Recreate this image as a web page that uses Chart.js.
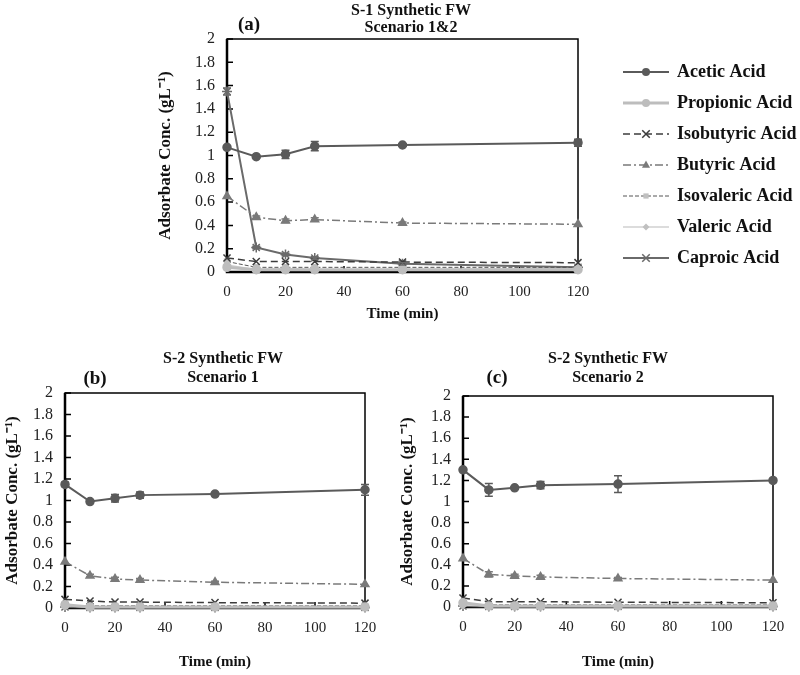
<!DOCTYPE html>
<html>
<head>
<meta charset="utf-8">
<script src="https://cdn.jsdelivr.net/npm/chart.js@4.4.1/dist/chart.umd.min.js"></script>
<style>
  body { margin: 0; background: #fff; }
  #wrap { position: relative; width: 800px; height: 675px; font-family: 'Liberation Serif', 'Times New Roman', serif; font-weight: bold; color: #111; }
  canvas { position: absolute; }
  .letter { position: absolute; font-size: 19px; transform: translate(-50%, -50%); white-space: nowrap; }
  .ttl { position: absolute; text-align: center; font-size: 16px; transform: translateX(-50%); white-space: nowrap; }
</style>
</head>
<body>
<div id="wrap">
  <canvas id="chartA" width="800" height="330" style="left:0;top:0;width:800px;height:330px"></canvas>
  <canvas id="chartB" width="400" height="345" style="left:0;top:330px;width:400px;height:345px"></canvas>
  <canvas id="chartC" width="410" height="345" style="left:390px;top:330px;width:410px;height:345px"></canvas>

  <div class="ttl" style="left:411px;top:1px;line-height:17px">S-1 Synthetic FW<br>Scenario 1&amp;2</div>
  <div class="ttl" style="left:223px;top:348px;line-height:19px">S-2 Synthetic FW<br>Scenario 1</div>
  <div class="ttl" style="left:608px;top:348px;line-height:19px">S-2 Synthetic FW<br>Scenario 2</div>
  <div class="letter" style="left:249px;top:24px">(a)</div>
  <div class="letter" style="left:95px;top:378px">(b)</div>
  <div class="letter" style="left:497px;top:377px">(c)</div>
</div>
<script>
// sampling times (min)
const times = [0, 10, 20, 30, 60, 120];
const acids = ['Acetic Acid', 'Propionic Acid', 'Isobutyric Acid', 'Butyric Acid', 'Isovaleric Acid', 'Valeric Acid', 'Caproic Acid'];
const xTicks = [0, 20, 40, 60, 80, 100, 120];
const yTicks = [0, 0.2, 0.4, 0.6, 0.8, 1, 1.2, 1.4, 1.6, 1.8, 2];
const yTickLabels = ['0', '0.2', '0.4', '0.6', '0.8', '1', '1.2', '1.4', '1.6', '1.8', '2'];

// (a) S-1 synthetic FW, scenario 1&2
const aAcetic     = [1.07, 0.99, 1.01, 1.08, 1.09, 1.11];
const aPropionic  = [0.04, 0.02, 0.02, 0.02, 0.02, 0.02];
const aIsobutyric = [0.12, 0.09, 0.09, 0.09, 0.085, 0.08];
const aButyric    = [0.65, 0.47, 0.44, 0.45, 0.42, 0.41];
const aIsovaleric = [0.09, 0.04, 0.04, 0.04, 0.04, 0.04];
const aValeric    = [0.06, 0.02, 0.03, 0.02, 0.02, 0.03];
const aCaproic    = [1.55, 0.21, 0.15, 0.12, 0.07, 0.04];
const aAceticErr  = [0.01, 0.01, 0.035, 0.04, 0.01, 0.03];
const aButyricErr = [0, 0.01, 0.015, 0.015, 0.01, 0];
const aCaproicErr = [0.03, 0.01, 0.01, 0.01, 0.01, 0];

// (b) S-2 synthetic FW, scenario 1
const bAcetic     = [1.15, 0.99, 1.02, 1.05, 1.06, 1.10];
const bPropionic  = [0.03, 0.01, 0.01, 0.01, 0.01, 0.01];
const bIsobutyric = [0.08, 0.065, 0.055, 0.055, 0.05, 0.045];
const bButyric    = [0.43, 0.30, 0.27, 0.26, 0.24, 0.22];
const bIsovaleric = [0.02, 0.02, 0.02, 0.02, 0.02, 0.02];
const bValeric    = [0.02, 0.01, 0.01, 0.01, 0.01, 0.01];
const bCaproic    = [0.01, 0.005, 0.005, 0.005, 0.005, 0.005];
const bAceticErr  = [0.02, 0.01, 0.035, 0.03, 0.01, 0.05];
const bButyricErr = [0, 0.015, 0.015, 0.015, 0.01, 0];

// (c) S-2 synthetic FW, scenario 2
const cAcetic     = [1.30, 1.11, 1.13, 1.155, 1.165, 1.20];
const cPropionic  = [0.04, 0.01, 0.01, 0.01, 0.01, 0.01];
const cIsobutyric = [0.085, 0.05, 0.05, 0.05, 0.045, 0.04];
const cButyric    = [0.46, 0.31, 0.295, 0.285, 0.27, 0.255];
const cIsovaleric = [0.03, 0.02, 0.02, 0.02, 0.02, 0.02];
const cValeric    = [0.02, 0.01, 0.01, 0.01, 0.01, 0.01];
const cCaproic    = [0.01, 0.005, 0.005, 0.005, 0.005, 0.005];
const cAceticErr  = [0.01, 0.06, 0.01, 0.035, 0.08, 0.01];
const cButyricErr = [0, 0.025, 0.015, 0.015, 0.01, 0];

const styles = [
  { color: '#5a5a5a', width: 2,   dash: [],           point: 'circle',   radius: 4,   fill: '#5a5a5a' },
  { color: '#bdbdbd', width: 3,   dash: [],           point: 'circle',   radius: 4,   fill: '#bdbdbd' },
  { color: '#3c3c3c', width: 1.5, dash: [7, 4],       point: 'crossRot', radius: 5,   fill: '#3c3c3c' },
  { color: '#7a7a7a', width: 1.5, dash: [8, 3, 2, 3], point: 'triangle', radius: 4.5, fill: '#7a7a7a' },
  { color: '#555555', width: 1,   dash: [4, 2],       point: 'rect',     radius: 3.5, fill: '#c0c0c0' },
  { color: '#d0d0d0', width: 1.5, dash: [],           point: 'rectRot',  radius: 3.5, fill: '#c0c0c0' },
  { color: '#6a6a6a', width: 2,   dash: [],           point: 'star',     radius: 5,   fill: '#6a6a6a' }
];

const serif = 'Liberation Serif';

function drawMarker(g, s, x, y) {
  const r = s.radius;
  g.fillStyle = s.fill;
  g.strokeStyle = s.color;
  g.lineWidth = 1.5;
  g.setLineDash([]);
  g.beginPath();
  if (s.point === 'circle') { g.arc(x, y, r, 0, Math.PI * 2); g.fill(); }
  else if (s.point === 'triangle') { g.moveTo(x, y - r); g.lineTo(x + r * 0.9, y + r * 0.6); g.lineTo(x - r * 0.9, y + r * 0.6); g.closePath(); g.fill(); }
  else if (s.point === 'rect') { g.rect(x - r * 0.75, y - r * 0.75, r * 1.5, r * 1.5); g.fill(); }
  else if (s.point === 'rectRot') { g.moveTo(x, y - r); g.lineTo(x + r, y); g.lineTo(x, y + r); g.lineTo(x - r, y); g.closePath(); g.fill(); }
  else if (s.point === 'crossRot') { const d = r * 0.75; g.moveTo(x - d, y - d); g.lineTo(x + d, y + d); g.moveTo(x + d, y - d); g.lineTo(x - d, y + d); g.stroke(); }
  else if (s.point === 'star') { const d = r * 0.75; g.moveTo(x - d, y - d); g.lineTo(x + d, y + d); g.moveTo(x + d, y - d); g.lineTo(x - d, y + d); g.moveTo(x - r, y); g.lineTo(x + r, y); g.stroke(); }
}

function legendIcon(s) {
  const c = document.createElement('canvas');
  c.width = 46; c.height = 14;
  const g = c.getContext('2d');
  g.strokeStyle = s.color;
  g.lineWidth = s.width;
  g.setLineDash(s.dash);
  g.beginPath(); g.moveTo(0, 7); g.lineTo(46, 7); g.stroke();
  drawMarker(g, s, 23, 7);
  return c;
}
const icons = styles.map(legendIcon);

function makeDatasets(values, errors) {
  return values.map((vals, i) => {
    const s = styles[i];
    return {
      label: acids[i],
      data: times.map((t, j) => ({ x: t, y: vals[j] })),
      errors: errors[i] || null,
      borderColor: s.color,
      borderWidth: s.width,
      borderDash: s.dash,
      pointStyle: s.point,
      pointRadius: s.radius,
      pointBackgroundColor: s.fill,
      pointBorderColor: (s.point === 'crossRot' || s.point === 'star') ? s.color : s.fill,
      pointBorderWidth: 1.5,
      tension: 0,
      fill: false,
      clip: false
    };
  });
}

// axis frame with inward tick marks
const framePlugin = {
  id: 'frame',
  beforeDatasetsDraw(chart) {
    const { ctx, chartArea: a, scales: { x, y } } = chart;
    ctx.save();
    ctx.strokeStyle = '#000';
    ctx.lineWidth = 1.5;
    ctx.strokeRect(a.left, a.top, a.right - a.left, a.bottom - a.top);
    ctx.lineWidth = 2.5;
    ctx.beginPath();
    ctx.moveTo(a.left, a.top); ctx.lineTo(a.left, a.bottom); ctx.lineTo(a.right, a.bottom);
    ctx.stroke();
    ctx.lineWidth = 1.5;
    ctx.beginPath();
    y.ticks.forEach(t => { const py = y.getPixelForValue(t.value); ctx.moveTo(a.left, py); ctx.lineTo(a.left + 6, py); });
    x.ticks.forEach(t => { const px = x.getPixelForValue(t.value); ctx.moveTo(px, a.bottom); ctx.lineTo(px, a.bottom - 6); });
    ctx.stroke();
    ctx.restore();
  }
};

const errorPlugin = {
  id: 'errorBars',
  afterDatasetsDraw(chart) {
    const { ctx, scales: { x, y } } = chart;
    chart.data.datasets.forEach(ds => {
      if (!ds.errors) return;
      ctx.save();
      ctx.strokeStyle = ds.borderColor;
      ctx.lineWidth = 1.5;
      ctx.beginPath();
      ds.data.forEach((p, i) => {
        const e = ds.errors[i];
        if (!e) return;
        const px = x.getPixelForValue(p.x);
        const hi = y.getPixelForValue(p.y + e), lo = y.getPixelForValue(p.y - e);
        ctx.moveTo(px, hi); ctx.lineTo(px, lo);
        ctx.moveTo(px - 4, hi); ctx.lineTo(px + 4, hi);
        ctx.moveTo(px - 4, lo); ctx.lineTo(px + 4, lo);
      });
      ctx.stroke();
      ctx.restore();
    });
  }
};

function makeScales(yWidth, xHeight) {
  return {
    x: {
      type: 'linear', min: 0, max: 120,
      afterBuildTicks: s => { s.ticks = xTicks.map(v => ({ value: v })); },
      afterFit: s => { s.height = xHeight; },
      grid: { display: false, drawTicks: false },
      border: { display: false },
      ticks: { padding: 11, maxRotation: 0, autoSkip: false, color: '#222', font: { family: serif, size: 15 } },
      title: { display: true, text: 'Time (min)', color: '#111', font: { family: serif, size: 15, weight: 'bold' }, padding: { top: 0, bottom: 4 } }
    },
    y: {
      type: 'linear', min: 0, max: 2, position: 'left',
      afterBuildTicks: s => { s.ticks = yTicks.map(v => ({ value: v })); },
      afterFit: s => { s.width = yWidth; },
      grid: { display: false, drawTicks: false },
      border: { display: false },
      ticks: {
        padding: 12, autoSkip: false, color: '#222', font: { family: serif, size: 16 },
        callback: v => yTickLabels[yTicks.findIndex(t => Math.abs(t - v) < 1e-9)]
      },
      title: { display: true, text: 'Adsorbate Conc. (gL⁻¹)', color: '#111', font: { family: serif, size: 17, weight: 'bold' }, padding: { top: 2, bottom: 0 } }
    }
  };
}

// (a) with legend on the right
const scalesA = makeScales(74, 55);
scalesA.y2 = {
  position: 'right', display: true,
  grid: { display: false, drawTicks: false },
  border: { display: false },
  ticks: { display: false },
  afterFit: s => { s.width = 33; }
};

new Chart(document.getElementById('chartA'), {
  type: 'line',
  data: {
    datasets: makeDatasets(
      [aAcetic, aPropionic, aIsobutyric, aButyric, aIsovaleric, aValeric, aCaproic],
      [aAceticErr, null, null, aButyricErr, null, null, aCaproicErr])
  },
  options: {
    responsive: false, animation: false,
    layout: { padding: { left: 153, right: 0, top: 39, bottom: 3 } },
    scales: scalesA,
    plugins: {
      tooltip: { enabled: false },
      legend: {
        position: 'right', align: 'start', maxWidth: 189,
        title: { display: true, text: '', font: { size: 5 }, padding: 2.5 },
        labels: {
          usePointStyle: true, pointStyleWidth: 44, padding: 13, color: '#111',
          font: { family: serif, size: 18, weight: 'bold' },
          generateLabels: chart => chart.data.datasets.map((ds, i) => ({
            text: ds.label, pointStyle: icons[i], datasetIndex: i, hidden: false,
            fontColor: '#111', lineWidth: 0, strokeStyle: 'rgba(0,0,0,0)', fillStyle: 'rgba(0,0,0,0)'
          }))
        }
      }
    }
  },
  plugins: [framePlugin, errorPlugin]
});

// (b)
new Chart(document.getElementById('chartB'), {
  type: 'line',
  data: {
    datasets: makeDatasets(
      [bAcetic, bPropionic, bIsobutyric, bButyric, bIsovaleric, bValeric, bCaproic],
      [bAceticErr, null, null, bButyricErr, null, null, null])
  },
  options: {
    responsive: false, animation: false,
    layout: { padding: { left: 0, right: 35, top: 63, bottom: 0 } },
    scales: makeScales(65, 67),
    plugins: { legend: { display: false }, tooltip: { enabled: false } }
  },
  plugins: [framePlugin, errorPlugin]
});

// (c)
new Chart(document.getElementById('chartC'), {
  type: 'line',
  data: {
    datasets: makeDatasets(
      [cAcetic, cPropionic, cIsobutyric, cButyric, cIsovaleric, cValeric, cCaproic],
      [cAceticErr, null, null, cButyricErr, null, null, null])
  },
  options: {
    responsive: false, animation: false,
    layout: { padding: { left: 5, right: 27, top: 66, bottom: 0 } },
    scales: makeScales(68, 68),
    plugins: { legend: { display: false }, tooltip: { enabled: false } }
  },
  plugins: [framePlugin, errorPlugin]
});
</script>
</body>
</html>
